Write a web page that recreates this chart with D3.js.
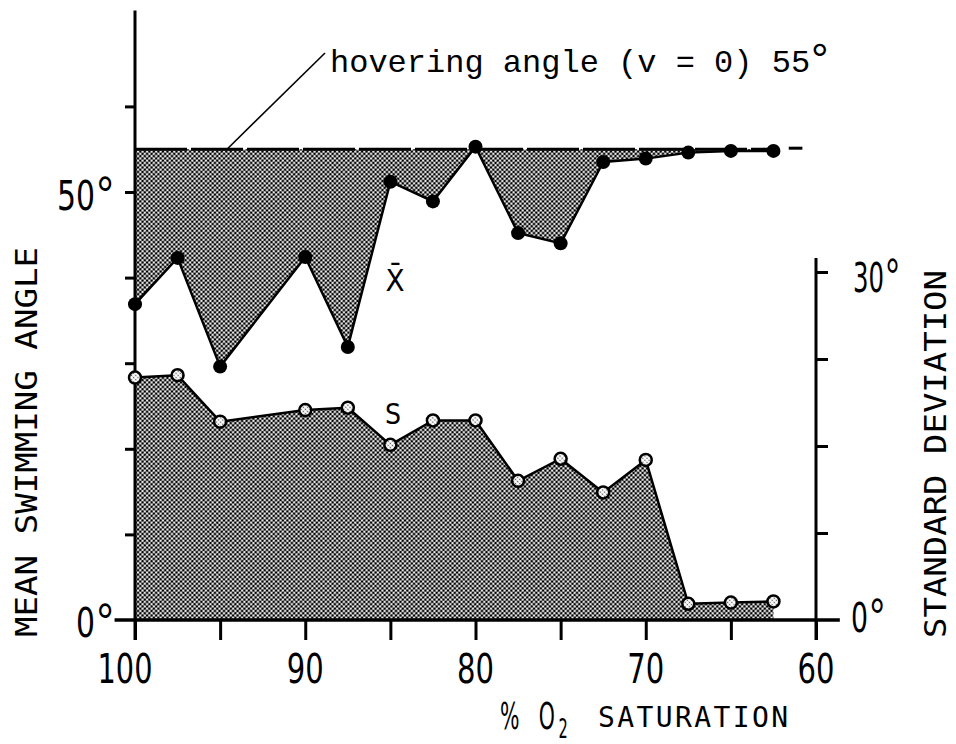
<!DOCTYPE html>
<html>
<head>
<meta charset="utf-8">
<script src="https://cdn.jsdelivr.net/npm/d3@7"></script>
<style>
  html, body { margin: 0; padding: 0; background: #fff; }
  svg { display: block; }
</style>
</head>
<body>
<svg id="chart" width="956" height="744"></svg>
<script>
// ---------- data ----------
const saturation = [100, 97.5, 95, 90, 87.5, 85, 82.5, 80, 77.5, 75, 72.5, 70, 67.5, 65, 62.5];
const meanAngle  = [36.9, 42.3, 29.6, 42.4, 31.9, 51.2, 48.9, 55.3, 45.2, 44.0, 53.5, 53.9, 54.6, 54.8, 54.8];
const stdDev     = [20.9, 21.1, 17.1, 18.1, 18.3, 15.1, 17.2, 17.2, 12.0, 13.9, 11.0, 13.8, 1.4, 1.5, 1.6];
const hoveringAngle = 55;
const xTicks = [100, 95, 90, 85, 80, 75, 70, 65, 60];
const xTickLabels = ["100", "90", "80", "70", "60"];
const leftTicks = [10, 20, 30, 40, 50, 60];
const leftTickLabels = ["0", "50"];
const rightTicks = [7.5, 15, 22.5, 30];
const rightTickLabels = ["0", "30"];

// ---------- setup ----------
const svg = d3.select("#chart");
const x  = d3.scaleLinear().domain([100, 60]).range([135, 816]);
const yL = d3.scaleLinear().domain([0, 50]).range([620, 192]);
const yR = d3.scaleLinear().domain([0, 30]).range([620, 272]);

const defs = svg.append("defs");
const pat = defs.append("pattern").attr("id", "ht")
  .attr("width", 3.2).attr("height", 3.2)
  .attr("patternUnits", "userSpaceOnUse")
  .attr("patternTransform", "rotate(45)");
pat.append("rect").attr("width", 3.2).attr("height", 3.2).attr("fill", "#fff");
pat.append("circle").attr("cx", 1.6).attr("cy", 1.6).attr("r", 1.35).attr("fill", "#000");

const pat2 = defs.append("pattern").attr("id", "ht2")
  .attr("width", 3).attr("height", 3)
  .attr("patternUnits", "userSpaceOnUse")
  .attr("patternTransform", "rotate(45)");
pat2.append("rect").attr("width", 3).attr("height", 3).attr("fill", "#fff");
pat2.append("circle").attr("cx", 1.5).attr("cy", 1.5).attr("r", 0.8).attr("fill", "#555");

const pts = saturation.map((s, i) => ({ s, m: meanAngle[i], sd: stdDev[i] }));

// ---------- shaded areas ----------
svg.append("path").datum(pts)
  .attr("d", d3.area().x(d => x(d.s)).y0(yR(0)).y1(d => yR(d.sd)))
  .attr("fill", "url(#ht)").attr("stroke", "none");

svg.append("path").datum(pts)
  .attr("d", d3.area().x(d => x(d.s)).y0(yL(hoveringAngle)).y1(d => yL(d.m)))
  .attr("fill", "url(#ht)").attr("stroke", "none");

// hovering line
svg.append("line")
  .attr("x1", x(100)).attr("x2", x(62.5))
  .attr("y1", yL(hoveringAngle)).attr("y2", yL(hoveringAngle))
  .attr("stroke", "#000").attr("stroke-width", 3)
  .attr("stroke-dasharray", "52 4");
svg.append("line")
  .attr("x1", x(61.6)).attr("x2", x(60.8))
  .attr("y1", yL(hoveringAngle) - 1).attr("y2", yL(hoveringAngle) - 1)
  .attr("stroke", "#000").attr("stroke-width", 3);

// leader line + annotation
svg.append("line")
  .attr("x1", 227).attr("y1", yL(hoveringAngle))
  .attr("x2", 325).attr("y2", 53)
  .attr("stroke", "#000").attr("stroke-width", 1.6);
const ann = svg.append("text")
  .attr("x", 330).attr("y", 72)
  .attr("font-family", "'Liberation Mono', 'DejaVu Sans Mono', monospace")
  .attr("font-size", 32).attr("fill", "#000");
ann.append("tspan").text("hovering angle (v = 0) 55");
ann.append("tspan").attr("dx", 1).attr("dy", 3)
  .attr("font-family", "'Liberation Sans', sans-serif").attr("font-size", 44).text("°");

// ---------- data lines ----------
const lineM = d3.line().x(d => x(d.s)).y(d => yL(d.m));
const lineS = d3.line().x(d => x(d.s)).y(d => yR(d.sd));
svg.append("path").datum(pts).attr("d", lineS)
  .attr("fill", "none").attr("stroke", "#000").attr("stroke-width", 2.5).attr("stroke-linejoin", "round");
svg.append("path").datum(pts).attr("d", lineM)
  .attr("fill", "none").attr("stroke", "#000").attr("stroke-width", 2.5).attr("stroke-linejoin", "round");

// ---------- axes ----------
const axisStyle = g => {
  g.select(".domain").remove();
  g.selectAll(".tick line").attr("stroke", "#000").attr("stroke-width", 3);
  g.selectAll(".tick text").remove();
};

// left axis
svg.append("g").attr("transform", `translate(${x(100)},0)`)
  .call(d3.axisLeft(yL).tickValues(leftTicks).tickSize(10).tickFormat(""))
  .call(axisStyle);
svg.append("line")
  .attr("x1", x(100)).attr("x2", x(100))
  .attr("y1", yL(71.2)).attr("y2", yL(0) + 20)
  .attr("stroke", "#000").attr("stroke-width", 3);

// bottom axis
svg.append("g").attr("transform", `translate(0,${yL(0)})`)
  .call(d3.axisBottom(x).tickValues(xTicks).tickSize(20).tickFormat(""))
  .call(axisStyle);
svg.append("line")
  .attr("x1", x(101.2)).attr("x2", x(58.6))
  .attr("y1", yL(0)).attr("y2", yL(0))
  .attr("stroke", "#000").attr("stroke-width", 3.5);

// right axis
svg.append("g").attr("transform", `translate(${x(60)},0)`)
  .call(d3.axisRight(yR).tickValues(rightTicks).tickSize(12).tickFormat(""))
  .call(axisStyle);
svg.append("line")
  .attr("x1", x(60)).attr("x2", x(60))
  .attr("y1", yR(31.2)).attr("y2", yR(0) + 20)
  .attr("stroke", "#000").attr("stroke-width", 3);

// ---------- markers ----------
svg.append("g").selectAll("circle").data(pts).join("circle")
  .attr("cx", d => x(d.s)).attr("cy", d => yR(d.sd)).attr("r", 6)
  .attr("fill", "url(#ht2)").attr("stroke", "#000").attr("stroke-width", 2.5);
svg.append("g").selectAll("circle").data(pts).join("circle")
  .attr("cx", d => x(d.s)).attr("cy", d => yL(d.m)).attr("r", 7)
  .attr("fill", "#000");

// ---------- tick labels (condensed by horizontal scaling) ----------
const numFont = "'DejaVu Sans Condensed', 'DejaVu Sans', sans-serif";
function numLabel(str, xPos, yPos, width, deg) {
  const t = svg.append("text")
    .attr("font-family", numFont).attr("font-size", 40)
    .attr("fill", "#000");
  const tsp = t.append("tspan").text(str);
  const nat = tsp.node().getComputedTextLength() || width;
  const sx = width / nat;
  t.attr("transform", `translate(${xPos},${yPos}) scale(${sx},1)`);
  if (deg) {
    t.append("tspan").attr("dx", 1.5 / sx).attr("dy", 3)
      .attr("font-family", "'Liberation Sans', sans-serif").attr("font-size", 52).text("°");
  }
}
xTickLabels.forEach(t => {
  const w = t.length === 3 ? 55 : 37;
  numLabel(t, x(+t) - w / 2 - (t === "100" ? 10 : 0), yL(0) + 63, w, false);
});
numLabel(leftTickLabels[1], 57, yL(50) + 18, 38, true);
numLabel(leftTickLabels[0], 76, yL(0) + 17, 19, true);
numLabel(rightTickLabels[1], 853, yR(30) + 20, 31, true);
numLabel(rightTickLabels[0], 851, yR(0) + 12, 17, true);

// series labels
svg.append("text").attr("x", 395).attr("y", 291).attr("text-anchor", "middle")
  .attr("font-family", numFont).attr("font-size", 31).text("X\u0304");
svg.append("text").attr("x", 393).attr("y", 424).attr("text-anchor", "middle")
  .attr("font-family", numFont).attr("font-size", 28).text("S");

// ---------- axis titles ----------
const monoFont = "'DejaVu Sans Mono', 'Liberation Mono', monospace";
svg.append("text")
  .attr("transform", "translate(37,442) rotate(-90)")
  .attr("text-anchor", "middle")
  .attr("font-family", monoFont).attr("font-size", 30)
  .attr("textLength", 390).attr("lengthAdjust", "spacingAndGlyphs")
  .text("MEAN SWIMMING ANGLE");
svg.append("text")
  .attr("transform", "translate(946,454) rotate(-90)")
  .attr("text-anchor", "middle")
  .attr("font-family", monoFont).attr("font-size", 30)
  .attr("textLength", 368).attr("lengthAdjust", "spacingAndGlyphs")
  .text("STANDARD DEVIATION");

// x title: "% O2" (condensed) + "SATURATION"
const xs = 0.6;
const xt = svg.append("text").attr("transform", `translate(500,729) scale(${xs},1)`)
  .attr("fill", "#000").attr("font-family", numFont).attr("font-size", 38);
xt.append("tspan").text("%");
xt.append("tspan").attr("dx", 32).text("O");
xt.append("tspan").attr("dx", 6).attr("dy", 9).attr("font-size", 27).text("2");
svg.append("text").attr("x", 598).attr("y", 727)
  .attr("font-family", monoFont).attr("font-size", 28)
  .attr("letter-spacing", 2.4)
  .text("SATURATION");
</script>
</body>
</html>
